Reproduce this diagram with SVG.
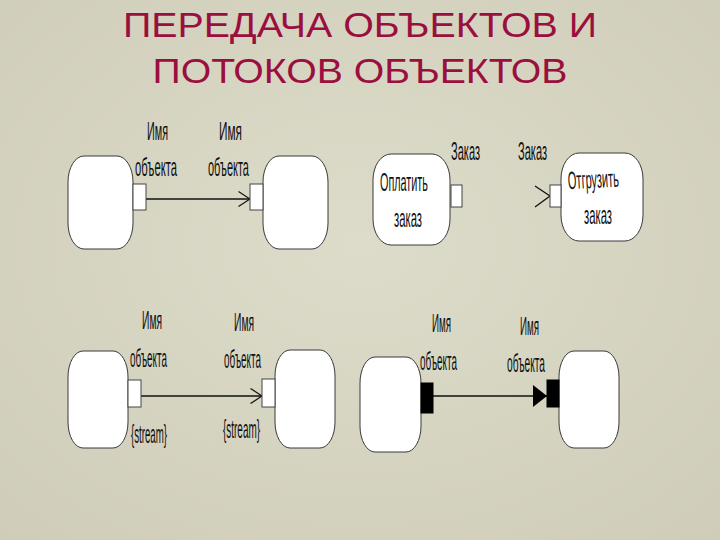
<svg xmlns="http://www.w3.org/2000/svg" width="720" height="540" viewBox="0 0 720 540">
<style>
.title{font-family:"Liberation Sans",Arial,sans-serif;font-size:35px;fill:#9a0f3e;text-anchor:middle}
.lbl{font-family:"Liberation Sans",Arial,sans-serif;font-size:25px;fill:#111}
.node{fill:#fff;stroke:#3a3a3a;stroke-width:1}
.pin{fill:#fff;stroke:#444;stroke-width:1}
.pinb{fill:#000;stroke:#000;stroke-width:1}
.flow{fill:none;stroke:#111;stroke-width:1.3}
</style>
<defs>
<radialGradient id="bg" cx="0.5" cy="0.45" r="0.75">
<stop offset="0" stop-color="#dddcca"/>
<stop offset="1" stop-color="#cfcdb9"/>
</radialGradient>
<marker id="open" viewBox="0 0 13 16" refX="12" refY="8" markerWidth="13" markerHeight="16" markerUnits="userSpaceOnUse" orient="auto">
<path d="M0.5,0.5 L12,8 L0.5,15.5" fill="none" stroke="#111" stroke-width="1.2"/>
</marker>
<marker id="filled" viewBox="0 0 14 24" refX="14" refY="12" markerWidth="14" markerHeight="24" markerUnits="userSpaceOnUse" orient="auto">
<path d="M0,1 L14,12 L0,23 Z" fill="#000"/>
</marker>
</defs>
<rect width="720" height="540" fill="url(#bg)"/>
<g id="title">
<text class="title" x="360" y="37" textLength="474" lengthAdjust="spacingAndGlyphs">ПЕРЕДАЧА ОБЪЕКТОВ И</text>
<text class="title" x="360" y="83" textLength="415" lengthAdjust="spacingAndGlyphs">ПОТОКОВ ОБЪЕКТОВ</text>
</g>
<g id="connectors">
<line class="flow" x1="146" y1="199" x2="250" y2="199" marker-end="url(#open)"/>
<polyline class="flow" points="535,186 550,196 535,207"/>
<line class="flow" x1="141" y1="396" x2="262" y2="396" marker-end="url(#open)"/>
<line class="flow" x1="433" y1="396" x2="547" y2="396" marker-end="url(#filled)"/>
</g>
<g id="tl-source">
<rect class="node" x="68" y="156" width="65" height="93" rx="16" ry="26"/>
<rect class="pin" x="133" y="184" width="13" height="26"/>
<text class="lbl" transform="translate(147,140) scale(0.457,1)" textLength="46" lengthAdjust="spacingAndGlyphs">Имя</text>
<text class="lbl" transform="translate(135,176) scale(0.447,1)" textLength="94" lengthAdjust="spacingAndGlyphs">объекта</text>
</g>
<g id="tl-target">
<rect class="node" x="263" y="156" width="65" height="93" rx="16" ry="26"/>
<rect class="pin" x="250" y="184" width="13" height="26"/>
<text class="lbl" transform="translate(219,140) scale(0.5,1)" textLength="46" lengthAdjust="spacingAndGlyphs">Имя</text>
<text class="lbl" transform="translate(208,176) scale(0.436,1)" textLength="94" lengthAdjust="spacingAndGlyphs">объекта</text>
</g>
<g id="pay-order">
<rect class="node" x="373" y="154" width="77" height="91" rx="18" ry="26"/>
<rect class="pin" x="451" y="185" width="11" height="22"/>
<text class="lbl" transform="translate(380,191) scale(0.436,1)" textLength="110" lengthAdjust="spacingAndGlyphs">Оплатить</text>
<text class="lbl" transform="translate(394,227) scale(0.459,1)" textLength="61" lengthAdjust="spacingAndGlyphs">заказ</text>
<text class="lbl" transform="translate(451,160) scale(0.446,1)" textLength="65" lengthAdjust="spacingAndGlyphs">Заказ</text>
</g>
<g id="ship-order">
<rect class="node" x="561" y="153" width="82" height="88" rx="18" ry="26"/>
<rect class="pin" x="550" y="185" width="11" height="22"/>
<text class="lbl" transform="rotate(-3 593 182) translate(568,188) scale(0.443,1)" textLength="115" lengthAdjust="spacingAndGlyphs">Отгрузить</text>
<text class="lbl" transform="translate(584,224) scale(0.459,1)" textLength="61" lengthAdjust="spacingAndGlyphs">заказ</text>
<text class="lbl" transform="translate(518,160) scale(0.446,1)" textLength="65" lengthAdjust="spacingAndGlyphs">Заказ</text>
</g>
<g id="bl-source">
<rect class="node" x="68" y="351" width="60" height="97" rx="15" ry="26"/>
<rect class="pin" x="128" y="380" width="13" height="27"/>
<text class="lbl" transform="translate(142,329) scale(0.435,1)" textLength="46" lengthAdjust="spacingAndGlyphs">Имя</text>
<text class="lbl" transform="translate(130,367) scale(0.394,1)" textLength="94" lengthAdjust="spacingAndGlyphs">объекта</text>
<text class="lbl" transform="translate(131,443) scale(0.387,1)" textLength="93" lengthAdjust="spacingAndGlyphs">{stream}</text>
</g>
<g id="bl-target">
<rect class="node" x="275" y="350" width="60" height="98" rx="15" ry="26"/>
<rect class="pin" x="262" y="379" width="13" height="28"/>
<text class="lbl" transform="translate(234,331) scale(0.435,1)" textLength="46" lengthAdjust="spacingAndGlyphs">Имя</text>
<text class="lbl" transform="translate(224,368) scale(0.394,1)" textLength="94" lengthAdjust="spacingAndGlyphs">объекта</text>
<text class="lbl" transform="translate(223,438) scale(0.398,1)" textLength="93" lengthAdjust="spacingAndGlyphs">{stream}</text>
</g>
<g id="br-source">
<rect class="node" x="360" y="357" width="61" height="95" rx="15" ry="26"/>
<rect class="pinb" x="421" y="383" width="12" height="30"/>
<text class="lbl" transform="translate(432,332) scale(0.413,1)" textLength="46" lengthAdjust="spacingAndGlyphs">Имя</text>
<text class="lbl" transform="translate(420,370) scale(0.394,1)" textLength="94" lengthAdjust="spacingAndGlyphs">объекта</text>
</g>
<g id="br-target">
<rect class="node" x="559" y="351" width="60" height="97" rx="15" ry="26"/>
<rect class="pinb" x="547" y="380" width="12" height="27"/>
<text class="lbl" transform="translate(520,335) scale(0.413,1)" textLength="46" lengthAdjust="spacingAndGlyphs">Имя</text>
<text class="lbl" transform="translate(507,372) scale(0.404,1)" textLength="94" lengthAdjust="spacingAndGlyphs">объекта</text>
</g>
</svg>
